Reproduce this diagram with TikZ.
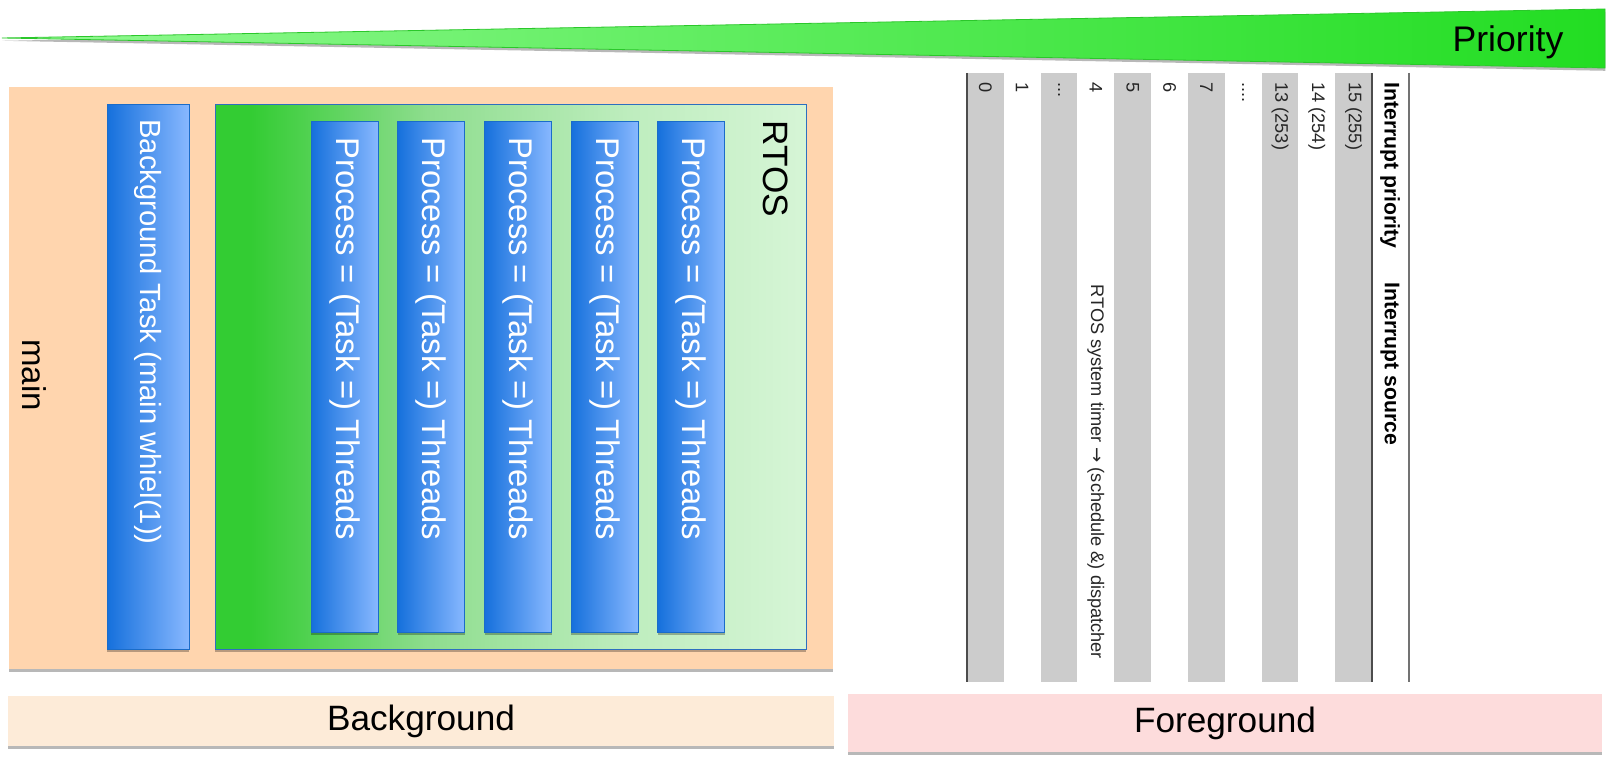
\documentclass[tikz,border=0pt]{standalone}
\usepackage{fontspec}
\setmainfont{Liberation Sans}
\newfontfamily\arrowfont{DejaVu Sans}
\usetikzlibrary{shadows,calc}
\definecolor{peach}{HTML}{FFD5AE}
\definecolor{bgbarc}{HTML}{FDEBD8}
\definecolor{fgbarc}{HTML}{FDDCDC}
\definecolor{blueL}{HTML}{1570DC}
\definecolor{blueR}{HTML}{88B8FF}
\definecolor{bluedge}{HTML}{1A6CC9}
\definecolor{rtosdark}{HTML}{33CC33}
\definecolor{rtosmid}{HTML}{8EDD8E}
\definecolor{rtospale}{HTML}{BEEDBE}
\definecolor{rtoslight}{HTML}{D6F5D6}
\definecolor{rtosedge}{HTML}{2D6FBF}
\definecolor{wedgeL}{HTML}{92FA92}
\definecolor{wedgeR}{HTML}{22DD22}
\definecolor{wedgeedge}{HTML}{2BC72B}
\definecolor{band}{HTML}{CCCCCC}
\newcommand{\dthree}{...}
\newcommand{\dfour}{....}
\pgfdeclarehorizontalshading{rtosfade}{100bp}{color(0bp)=(rtosdark); color(28bp)=(rtosdark);
  color(43bp)=(rtosmid); color(60bp)=(rtospale); color(75bp)=(rtoslight); color(100bp)=(rtoslight)}
\tikzset{
  panel/.style={anchor=north west,inner sep=0pt,outer sep=0pt},
  shad/.style={drop shadow={shadow xshift=0.2pt,shadow yshift=-1.4pt,fill=black,opacity=0.28}},
  bluebar/.style={panel,shad,draw=bluedge,line width=0.5pt,left color=blueL,right color=blueR},
  vtext/.style={rotate=-90,anchor=west,inner sep=0pt},
  bigfont/.style={font=\fontsize{17.6pt}{20pt}\selectfont},
  cell/.style={vtext,text=black!85,font=\fontsize{9.1pt}{11pt}\selectfont},
  head/.style={vtext,text=black,font=\fontsize{10.6pt}{12pt}\selectfont\bfseries},
  tline/.style={draw=black!70,line width=0.7pt}
}

\begin{document}
\begin{tikzpicture}[x=0.5pt,y=-0.5pt]
  \useasboundingbox (0,0) rectangle (1610,758);
  \fill[white] (0,0) rectangle (1610,758);

  % priority wedge
  \draw[draw=wedgeedge,line width=0.4pt,left color=wedgeL,right color=wedgeR,shad]
    (2,38) -- (1605,9) -- (1605,68) -- cycle;
  \node[bigfont,anchor=base,font=\fontsize{17.8pt}{20pt}\selectfont] (prio) at (1508,52) {Priority};

  % background side
  \node[panel,shad,fill=peach,minimum width=412pt,minimum height=291pt] (mainbox) at (9,87) {};
  \node[bigfont,rotate=-90,font=\fontsize{16.5pt}{19pt}\selectfont] (mainlbl) at (34,375) {main};
  \node[bluebar,minimum width=41pt,minimum height=272pt] (bgtask) at (107,105) {};
  \node[vtext,text=white,font=\fontsize{14.6pt}{17pt}\selectfont] (bgtasklbl)
    at ($(bgtask.north)+(0,14)$) {Background Task (main whiel(1))};
  \node[panel,shad,draw=rtosedge,line width=0.5pt,shading=rtosfade,
        minimum width=295.5pt,minimum height=272pt] (rtos) at (215,105) {};
  \node[vtext,bigfont] (rtoslbl) at (776,120) {RTOS};
  \foreach \i in {1,2,3,4,5}{
    \node[bluebar,minimum width=33.5pt,minimum height=255pt] (p\i) at ({311+(\i-1)*86.67},122) {};
    \node[vtext,text=white,font=\fontsize{16.4pt}{19pt}\selectfont] (p\i lbl)
      at ($(p\i.north)+(0,15)$) {Process = (Task =) Threads};
  }
  \node[panel,shad,fill=bgbarc,minimum width=413pt,minimum height=25pt,bigfont] (bgbar) at (8,696) {Background};

  % foreground side: interrupt table
  \foreach \i/\c/\lab in {0/band/0,1/white/1,2/band/\dthree,3/white/4,4/band/5,5/white/6,
                          6/band/7,7/white/\dfour,8/band/13 (253),9/white/14 (254),10/band/15 (255)}{
    \pgfmathsetmacro{\bx}{967+\i*36.82}
    \fill[\c] (\bx,73) rectangle ({\bx+36.82},682);
    \node[cell] (irq\i) at ({\bx+18.41},82) {\lab};
  }
  \node[cell] (timer) at ({967+3.5*36.82},284) {RTOS system timer {\arrowfont →} (schedule \&) dispatcher};
  \node[head] (hprio) at (1390,82) {Interrupt priority};
  \node[head] (hsrc) at (1390,282) {Interrupt source};
  \draw[tline] (967,73) -- (967,682);
  \draw[tline] (1372,73) -- (1372,682);
  \draw[tline,draw=black!55,line width=0.6pt] (1409,73) -- (1409,682);
  \node[panel,shad,fill=fgbarc,minimum width=377pt,minimum height=29pt,bigfont] (fgbar) at (848,694) {Foreground};
\end{tikzpicture}
\end{document}
